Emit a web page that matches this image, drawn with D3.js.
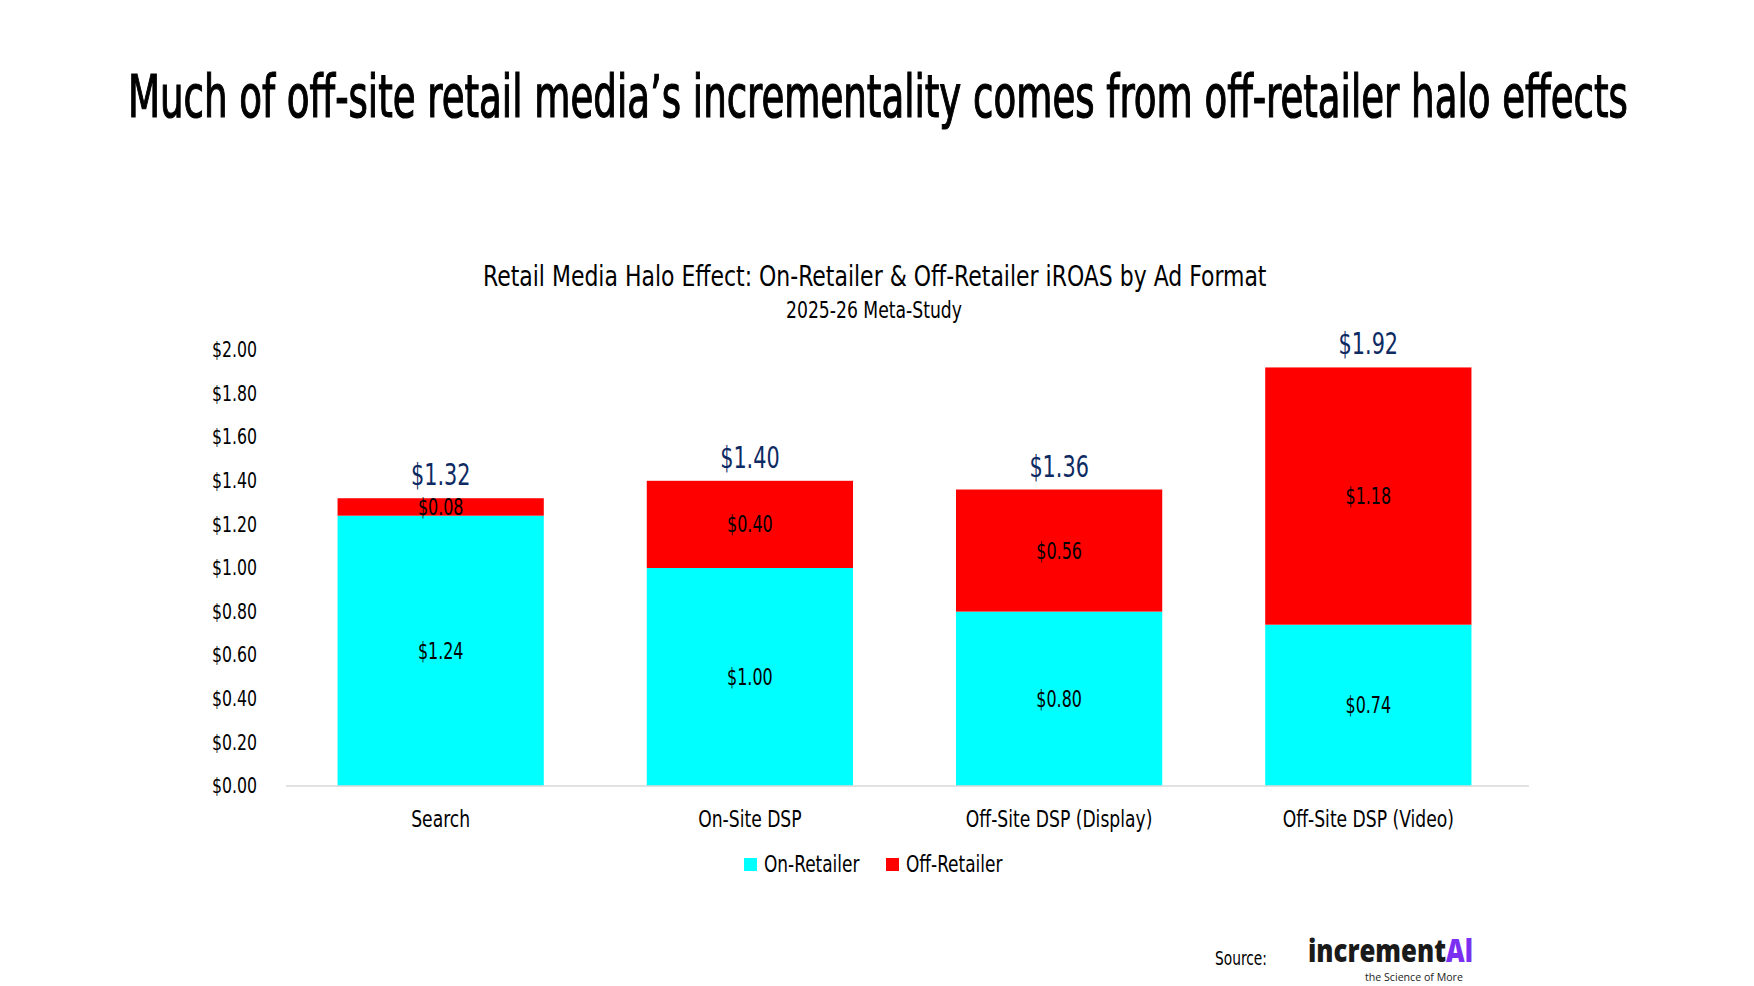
<!DOCTYPE html>
<html>
<head>
<meta charset="utf-8">
<script src="https://cdn.jsdelivr.net/npm/d3@7"></script>
<style>
  body { margin: 0; background: #fff; }
  text { font-family: "Liberation Sans Narrow", "DejaVu Sans Condensed", "Roboto", sans-serif; }
</style>
</head>
<body>
<div id="chart"></div>
<script>
// chart data
var categories = ["Search", "On-Site DSP", "Off-Site DSP (Display)", "Off-Site DSP (Video)"];
var onRetailer = [1.24, 1.00, 0.80, 0.74];
var offRetailer = [0.08, 0.40, 0.56, 1.18];
var totals = [1.32, 1.40, 1.36, 1.92];
var yTicks = [0, 0.2, 0.4, 0.6, 0.8, 1.0, 1.2, 1.4, 1.6, 1.8, 2.0];
var seriesNames = ["On-Retailer", "Off-Retailer"];
var seriesColors = ["#00ffff", "#ff0000"];

var W = 1754, H = 986;

var svg = d3.select("#chart")
  .append("svg")
  .attr("width", W)
  .attr("height", H);

// the original uses a very narrow typeface, so squeeze text horizontally
// (width given: scale to that width; otherwise scale by factor k)
function squeeze(sel, k, width) {
  sel.each(function() {
    var el = d3.select(this);
    var len = this.getComputedTextLength();
    var s = width ? width / len : k;
    var tx = +el.attr("x") || 0, ty = +el.attr("y") || 0;
    el.attr("x", 0).attr("y", 0)
      .attr("transform", "translate(" + tx + "," + ty + ") scale(" + s + ",1)");
  });
}

// page title
var title = svg.append("text")
  .attr("x", 128).attr("y", 117)
  .style("font-size", "58px")
  .attr("stroke", "#000").attr("stroke-width", 1.2)
  .text("Much of off-site retail media\u2019s incrementality comes from off-retailer halo effects");
squeeze(title, 1, 1500);

// chart title + subtitle
var ct = svg.append("text")
  .attr("x", 483).attr("y", 286)
  .style("font-size", "29px")
  .text("Retail Media Halo Effect: On-Retailer & Off-Retailer iROAS by Ad Format");
squeeze(ct, 1, 784);

var st = svg.append("text")
  .attr("x", 786).attr("y", 318)
  .style("font-size", "23px")
  .text("2025-26 Meta-Study");
squeeze(st, 1, 176);

// scales
var x = d3.scaleBand()
  .domain(categories)
  .range([286, 1523])
  .paddingInner(0.333)
  .paddingOuter(0.1667);

var y = d3.scaleLinear()
  .domain([0, 2])
  .range([786, 350]);

var fmt = function(v) { return "$" + d3.format(".2f")(v); };

// y axis labels (no line, no ticks)
var yAxis = svg.append("g")
  .attr("transform", "translate(257,0)")
  .call(d3.axisLeft(y).tickValues(yTicks).tickFormat(fmt).tickSize(0).tickPadding(0));
yAxis.select(".domain").remove();
yAxis.selectAll("text")
  .style("font-family", "'Liberation Sans Narrow', 'DejaVu Sans Condensed', sans-serif")
  .style("font-size", "21px")
  .attr("fill", "#000")
  .attr("textLength", 45).attr("lengthAdjust", "spacingAndGlyphs");

// stacked data
var rows = categories.map(function(c, i) {
  return { cat: c, on: onRetailer[i], off: offRetailer[i], total: totals[i] };
});
var stacked = d3.stack().keys(["on", "off"])(rows);

svg.selectAll("g.series")
  .data(stacked)
  .enter()
  .append("g")
  .attr("class", "series")
  .attr("fill", function(d, i) { return seriesColors[i]; })
  .selectAll("rect")
  .data(function(d) { return d; })
  .enter()
  .append("rect")
  .attr("x", function(d) { return x(d.data.cat); })
  .attr("y", function(d) { return y(d[1]); })
  .attr("width", x.bandwidth())
  .attr("height", function(d) { return y(d[0]) - y(d[1]); });

// baseline
svg.append("line")
  .attr("x1", 286).attr("x2", 1529)
  .attr("y1", y(0)).attr("y2", y(0))
  .attr("stroke", "#d9d9d9").attr("stroke-width", 1.5);

// segment labels
stacked.forEach(function(s) {
  var t = svg.selectAll(null)
    .data(s)
    .enter()
    .append("text")
    .attr("x", function(d) { return x(d.data.cat) + x.bandwidth() / 2; })
    .attr("y", function(d) { return (y(d[0]) + y(d[1])) / 2 + 8; })
    .attr("text-anchor", "middle")
    .style("font-size", "23px")
    .attr("fill", "#000")
    .text(function(d) { return fmt(d[1] - d[0]); });
  squeeze(t, 0.77);
});

// totals
var tot = svg.selectAll("text.total")
  .data(rows)
  .enter()
  .append("text")
  .attr("class", "total")
  .attr("x", function(d) { return x(d.cat) + x.bandwidth() / 2; })
  .attr("y", function(d) { return y(d.total) - 13; })
  .attr("text-anchor", "middle")
  .style("font-size", "30px")
  .attr("fill", "#0d2a62")
  .text(function(d) { return fmt(d.total); });
squeeze(tot, 0.77);

// x axis labels
var xl = svg.selectAll("text.xlab")
  .data(categories)
  .enter()
  .append("text")
  .attr("class", "xlab")
  .attr("x", function(d) { return x(d) + x.bandwidth() / 2; })
  .attr("y", 827)
  .attr("text-anchor", "middle")
  .style("font-size", "23px")
  .text(function(d) { return d; });
squeeze(xl, 0.83);

// legend
var legendX = [744, 886];
var legend = svg.selectAll("g.legend")
  .data(seriesNames)
  .enter()
  .append("g")
  .attr("class", "legend")
  .attr("transform", function(d, i) { return "translate(" + legendX[i] + ",858)"; });
legend.append("rect")
  .attr("width", 13).attr("height", 13)
  .attr("fill", function(d, i) { return seriesColors[i]; });
var lt = legend.append("text")
  .attr("x", 20).attr("y", 14)
  .style("font-size", "23px")
  .text(function(d) { return d; });
squeeze(lt, 0.82);

// source + logo
var src = svg.append("text")
  .attr("x", 1215).attr("y", 965)
  .style("font-size", "20px")
  .text("Source:");
squeeze(src, 1, 52);

var logo = svg.append("text")
  .attr("x", 1308).attr("y", 962)
  .style("font-family", "'Open Sans', 'Lato', sans-serif")
  .style("font-weight", 800)
  .style("font-size", "31px");
logo.append("tspan").attr("fill", "#1a1a1a").text("increment");
logo.append("tspan").attr("fill", "#7b2ff0").text("Al");
squeeze(logo, 1, 165);

var tag = svg.append("text")
  .attr("x", 1365).attr("y", 981)
  .style("font-family", "'Open Sans', sans-serif")
  .style("font-size", "10px")
  .attr("fill", "#222")
  .text("the Science of More");
squeeze(tag, 1, 98);
</script>
</body>
</html>
